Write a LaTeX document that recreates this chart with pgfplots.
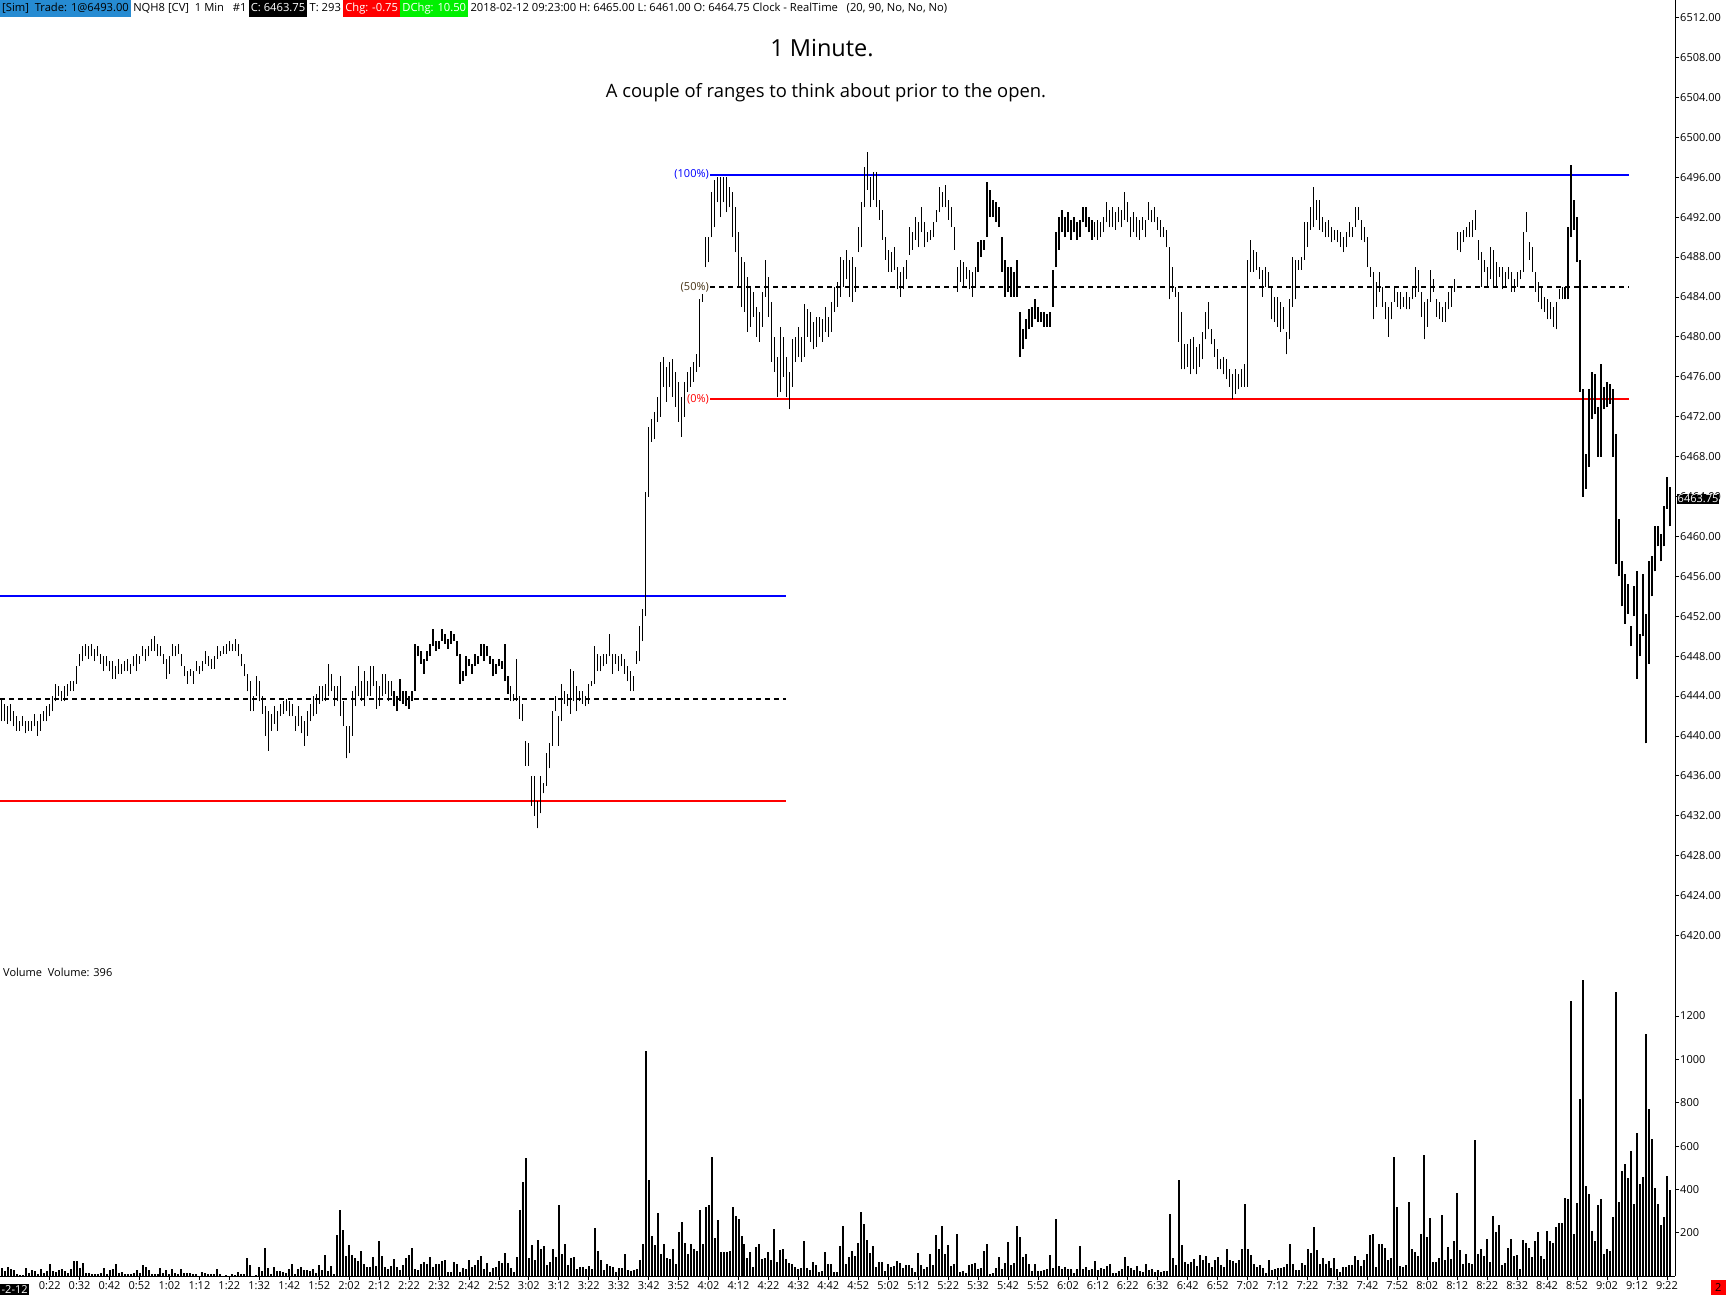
\documentclass[border=0pt]{standalone}
\usepackage{pgfplots}
\pgfplotsset{compat=1.18}
\usepackage{pgfplotstable}
\usepackage{fontspec}
\setmainfont{Open Sans}
\definecolor{hdrblue}{RGB}{38,139,210}
\definecolor{dchg}{RGB}{0,240,0}
\definecolor{fifty}{RGB}{70,50,20}
\newcommand\tf{\fontsize{11}{13}\selectfont}
\newcommand\hf{\fontsize{11.2}{13}\selectfont}
% t = minutes after 0:00 ; h,l = high/low price minus 6400 (the price scale is labelled 6400+value) ; v = volume
% one shared axis: the volume pane sits below the price pane; a volume v is drawn at height -14.14 + 0.021728*v
\pgfplotstableread{
t h l v
6 43.75 41.5 38
7 43.25 41.5 25
8 43 41.25 43
9 43.25 41.5 34
10 42.5 41 29
11 42 40.5 11
12 41.5 40.5 6
13 42 41 6
14 41.5 40.25 38
15 41.5 40.5 15
16 41.5 40.5 29
17 42.25 41 25
18 41.5 40 11
19 42.25 40.5 34
20 42.5 41.5 15
21 43 41.5 25
22 43.25 42 57
23 44 42.5 25
24 45.25 43.5 20
25 45 44 29
26 44.5 43.5 34
27 45 43.5 25
28 45.25 44 15
29 45.5 44.5 34
30 45.5 44.5 71
31 47 45.25 71
32 48.25 47 38
33 49 47.5 62
34 49.25 48 15
35 49 47.75 15
36 49.25 48 11
37 48.75 47.5 11
38 49 48 11
39 48.25 47.25 15
40 48 46.5 38
41 48 47 11
42 47.5 46.5 29
43 47.5 45.75 34
44 47 45.75 57
45 47.75 46.25 15
46 47.25 46.25 20
47 47.5 46.5 8
48 47.75 46.5 8
49 47.25 46.25 8
50 48 47 15
51 48.25 46.5 29
52 48 47.25 15
53 49 48 52
54 48.75 47.5 43
55 49 48 29
56 49.75 48.5 11
57 50 48.5 11
58 49.25 48 11
59 49 48 38
60 48.25 47.25 15
61 47.75 45.75 29
62 48 46.25 11
63 49.25 48 34
64 49 48 15
65 49.25 48.25 8
66 48.25 47 34
67 47 46 15
68 46.5 45.25 15
69 46.75 46 15
70 46.5 45.25 11
71 47.5 46.5 11
72 47 46.25 3
73 47.5 46.5 20
74 48.5 47.25 15
75 48 47 11
76 47.75 46.75 8
77 48 46.75 8
78 49 47.75 34
79 48.5 48 8
80 49 48.25 3
81 49.25 48.25 6
82 49.5 48.5 3
83 49.25 48.5 11
84 49.75 48.5 6
85 49.25 48 20
86 48.25 47 8
87 47.25 46 11
88 46.25 44.5 86
89 45.5 42.5 52
90 44 42.5 3
91 46 44 6
92 45.5 43.5 43
93 44 42.25 25
94 43 40 131
95 42.5 38.5 38
96 42.25 40.5 11
97 43 41.25 43
98 42.5 40.5 25
99 43.25 42 25
100 43.5 42.25 20
101 43.75 42.5 15
102 43.5 42 34
103 43.25 42 57
104 42 40.5 8
105 43 41 34
106 42 40.25 43
107 41.5 39 29
108 42.5 40 29
109 43.25 41.5 25
110 44 42 34
111 44.25 42.25 15
112 45 43.25 52
113 45 43.5 29
114 45.25 43.5 99
115 47.25 44 25
116 46.25 44.5 48
117 45 43 11
118 45 43.5 191
119 46 42 304
120 43.5 41 214
121 41 37.75 91
122 41 38.25 145
123 44.5 40 99
124 45 43 85
125 47 44 71
126 45.5 43.5 117
127 46.5 43 57
128 45.5 44 43
129 47 44 43
130 47 45 89
131 45.5 42.75 48
132 45 43 163
133 46.25 44 94
134 46.25 44.25 43
135 45.5 43.5 34
136 45.5 44 48
137 44.5 43 80
138 44 42.5 43
139 45.75 43.5 29
140 44.5 43.25 52
141 44.5 43 85
142 44 42.75 99
143 44.5 43.5 131
144 49.25 44.5 34
145 49 48 29
146 48.5 47.25 57
147 47.75 46.25 66
148 48.5 47.5 57
149 49.25 48 89
150 50.75 49 43
151 49.5 48.5 57
152 49.5 48.75 57
153 50.75 49.5 71
154 50.25 49.25 75
155 49.75 48.75 20
156 50.5 49.25 20
157 50.25 49.5 66
158 49.5 48 57
159 48.25 45.25 20
160 46.5 45.5 38
161 48 46 34
162 47.75 47 75
163 47.25 46.25 43
164 48.25 47 52
165 48 47.25 75
166 49.25 48 94
167 49.25 47.5 34
168 49 48 62
169 48 47.25 20
170 47.75 46 38
171 47.25 46.25 43
172 47.75 47 71
173 47.5 46.75 62
174 49.25 45.5 108
175 46 44.25 62
176 45 43.5 38
177 44.25 43.5 20
178 47.75 43.5 89
179 44 41.75 307
180 43.25 41.5 436
181 39.5 37 543
182 39.25 37 85
183 36 33 145
184 36 32 75
185 33.5 30.75 168
186 36 32.25 126
187 35.25 34.25 140
188 38.25 35 52
189 39.25 36.75 66
190 42.5 39 126
191 44 42.5 89
192 42 39 330
193 45.25 41.5 103
194 44.5 43.25 150
195 44.25 43 52
196 46.75 42.25 85
197 46.5 43.5 89
198 45 42.5 34
199 44.5 43.5 43
200 44.5 43.25 43
201 44 43 34
202 45.25 43.25 48
203 45.5 45 34
204 49 45.25 224
205 48.25 46.5 117
206 48 46.5 75
207 48.25 47 29
208 48.25 47.25 57
209 50.25 48 48
210 48.25 46.25 43
211 48.25 47.25 20
212 48 46.5 38
213 48.25 47 38
214 47.75 46.25 103
215 47 45.5 29
216 46.5 44.5 25
217 46 44.5 29
218 48.5 47.25 34
219 51 47.5 75
220 52.75 49.5 150
221 64.5 52 1039
222 71 64 445
223 71.75 69.5 187
224 72.5 69.75 145
225 74 71.5 293
226 77.5 72 103
227 78 75 150
228 77 73.5 85
229 77.5 75 80
230 77.75 74 126
231 76.5 73 57
232 75.5 71.5 205
233 74 70 251
234 75.5 72 154
235 76.5 74.5 103
236 77 75 150
237 77.5 75.5 126
238 78.25 76.5 117
239 83.75 77 307
240 84.25 83.5 150
241 90 87 321
242 90 87.5 330
243 94.5 90 552
244 95.75 91 177
245 96 93.5 260
246 96 92 113
247 96 93.5 113
248 96 92.5 113
249 95 93 117
250 94.5 90 321
251 93 88.5 279
252 90.5 85 265
253 88 83 187
254 87.5 82.5 150
255 86 80.5 85
256 85 81 113
257 84.5 82 43
258 83 80 136
259 82.5 79.5 150
260 84.5 81 80
261 87.75 84 85
262 86 82 113
263 83.5 77.5 75
264 80 76.5 219
265 78 74 66
266 81 74.5 122
267 80 76 126
268 78 74 80
269 76.5 72.75 62
270 79.75 75 57
271 80 77.5 43
272 81 78 34
273 80 77.5 38
274 83.25 78 163
275 82.75 80 38
276 82.5 79.5 29
277 81.5 78.75 66
278 82 79 52
279 82 80 20
280 81.75 79.5 25
281 83 80.5 113
282 82 80 57
283 83.5 80.5 57
284 85 82.5 20
285 85.5 83 20
286 88 84 138
287 87.75 85 231
288 88.75 85.75 55
289 87.75 84 88
290 88 83.5 115
291 87 84.5 92
292 91 88.5 152
293 93.5 89 295
294 97 93 240
295 98.5 94.75 166
296 96 93 106
297 96.5 93.75 138
298 96.5 93 42
299 93.75 91.75 65
300 92.75 89.75 65
301 90 87.75 23
302 88.75 86.5 55
303 88.5 86.5 42
304 89 86.75 46
305 87 84.75 69
306 86.5 84 60
307 87 84.75 37
308 87.75 85.75 51
309 91 88.25 51
310 90.5 88.75 37
311 92 89.75 18
312 91.5 89 106
313 93 90.5 51
314 91.5 89 32
315 90.5 89.5 42
316 90.75 89.75 102
317 91.5 90 51
318 92.75 91.5 189
319 95 92.5 125
320 94.5 93 231
321 95.25 93 102
322 93.75 91.75 143
323 93 91 46
324 91 88.75 55
325 87 84.5 194
326 87.75 85.5 18
327 87.5 85 23
328 87 85.75 14
329 86.75 84.75 51
330 86.5 84 55
331 87 85 60
332 89.5 86.5 32
333 89.75 88 37
334 89.75 88.75 115
335 95.5 90 148
336 94.75 92 9
337 93.75 92 14
338 93.5 91.5 37
339 93 91 88
340 90 86.5 32
341 87.75 84 60
342 87 84.5 157
343 87 84 51
344 86.5 84 60
345 87.75 84 231
346 82.5 78 180
347 80.75 78.75 88
348 81.75 79.75 102
349 82.75 80.75 55
350 83 81 23
351 83.75 81.75 55
352 83 81.5 23
353 82.5 81.5 23
354 82.5 81 28
355 82.25 81 32
356 82.5 81 97
357 86.75 83 40
358 90.5 87 263
359 92 88.75 46
360 92.75 90.5 32
361 92 90 42
362 92.5 90.5 32
363 91.75 89.75 32
364 92 90.5 14
365 91.5 89.75 32
366 91.75 90 138
367 93 91.5 32
368 93 91 42
369 92 90.5 28
370 91.75 89.75 32
371 91.5 90 69
372 91.75 89.75 28
373 91.5 90 37
374 92 90.5 32
375 93.5 91.5 46
376 92.75 91 55
377 93 91 14
378 92.5 90.75 14
379 93 91.5 23
380 92.75 91 32
381 94.5 91.75 88
382 93.5 91.5 46
383 92 90 37
384 92.5 90.5 28
385 92 90 46
386 91.75 89.75 23
387 92 90.75 18
388 91.75 90 55
389 93.5 91.75 28
390 92.75 91.5 32
391 93 91.5 18
392 92 90.75 28
393 91.75 90 18
394 91 90 23
395 90.75 89 23
396 89 83.75 286
397 87 84.5 83
398 85 84 51
399 84.5 79.5 443
400 82.5 76.75 143
401 79.25 76.75 65
402 79.25 77 55
403 79.75 76.25 65
404 80 76.75 78
405 79 76.25 46
406 79.25 77 97
407 80.5 77.75 74
408 82.5 79.75 92
409 83.5 80.75 60
410 80.75 79.25 42
411 79.75 78 74
412 78.75 76.75 88
413 77.75 76.75 51
414 78 76.25 42
415 77.75 75.75 125
416 76.75 75 74
417 76.25 73.75 69
418 76.75 74.25 60
419 76.25 74.75 74
420 76.75 75 125
421 77.25 75 332
422 87.75 75 125
423 89.75 86.5 97
424 88.75 86.5 55
425 88.5 86.75 42
426 87 85.75 51
427 86.75 84 37
428 87 85 14
429 86.5 85 74
430 85 81.75 28
431 84 81.5 32
432 84 81 37
433 83.5 80.5 37
434 83 80.75 42
435 80.5 78.25 55
436 83.75 79.75 148
437 88 83 55
438 87.75 83.75 28
439 87.75 86.75 28
440 88 86.75 60
441 91.5 87.75 50
442 91.5 89 125
443 93 90.75 106
444 95 91 226
445 93.75 91.75 120
446 93.75 90.75 55
447 92 90.5 83
448 91.5 90 55
449 91.75 90 69
450 91 89.5 37
451 90.75 89.75 83
452 90.75 89.5 32
453 90.5 89 18
454 90 88.5 42
455 90.5 89 42
456 91.5 90 51
457 91 90 51
458 93 91 92
459 93 91.75 74
460 91.75 89.75 46
461 91 89.5 74
462 90 87 102
463 87 86 189
464 86.5 81.75 194
465 85.5 83 42
466 86.5 84.5 148
467 85 83 148
468 83.5 81.75 129
469 83 80 74
470 83.5 81.75 83
471 85 83.5 549
472 84.5 83 318
473 84.5 82.75 46
474 84 83 42
475 84.5 82.75 51
476 84 82.75 342
477 85 83.75 125
478 87 84 111
479 86.75 84.5 92
480 84.5 82 194
481 83.5 79.75 558
482 83.75 81 180
483 86.75 83.5 268
484 85.75 84.5 65
485 83.75 82 65
486 83.5 81.75 83
487 83 81.5 282
488 83.5 81.5 74
489 84.5 82.75 134
490 85 83 78
491 85.75 84.5 162
492 90.5 88.75 383
493 90.5 88.5 120
494 90.75 89.5 55
495 91 90 102
496 91.5 90 60
497 91.75 90 55
498 92.75 90.75 628
499 89.75 87.75 102
500 88.5 85 125
501 87.75 86.5 92
502 87 85 171
503 89 85.75 65
504 88.75 85 277
505 87.5 85 203
506 87 86 235
507 87 84.75 51
508 86.5 85 60
509 87 85.75 129
510 86.5 84.5 171
511 85.75 84.5 92
512 86.5 85 97
513 86.75 85.75 32
514 90.5 86.5 166
515 92.5 90.5 152
516 89.5 87.75 129
517 89 86.5 88
518 86.5 84.5 162
519 85.5 83.5 203
520 85 82.75 92
521 84 82.5 78
522 83.75 81.75 208
523 83.5 81.75 162
524 83 81 152
525 83.5 80.75 226
526 84.75 83.75 245
527 85 83.75 245
528 85 83.75 360
529 91 83.75 355
530 97.25 90 1269
531 93.75 90.75 194
532 92 87.5 337
533 87.75 74.5 817
534 74.75 64 1366
535 68.25 64.75 415
536 74.75 67 378
537 76.5 71.75 208
538 76.25 72.25 162
539 73 68 328
540 77.25 68 355
541 75 72.75 102
542 75.5 73 125
543 75.25 73.25 115
544 74.75 68 272
545 70.25 57.25 1311
546 61.75 56 342
547 57.5 53 485
548 56.25 51.25 517
549 55.25 52.25 452
550 51 49 577
551 55 52 332
552 56.5 45.75 660
553 50.25 48 425
554 56.25 50 457
555 52.25 39.25 1117
556 57.5 47.25 771
557 58 54 632
558 61 56.5 406
559 61 59 332
560 60.25 57.5 235
561 63 59 272
562 66 62.75 462
563 65 61 396
}\data
\begin{document}
\begin{tikzpicture}[x=1pt,y=1pt]
\begin{axis}[
  at={(0,0)}, anchor=south west, width=1675pt, height=1276.2pt, scale only axis,
  xmin=5.41, xmax=564.7, ymin=-14.14, ymax=113.76,
  axis line style={draw=none},
  xtick pos=bottom, ytick pos=right,
  xtick={22,32,...,562},
  xticklabels={0:22,0:32,0:42,0:52,1:02,1:12,1:22,1:32,1:42,1:52,2:02,2:12,2:22,2:32,2:42,2:52,3:02,3:12,3:22,3:32,3:42,3:52,4:02,4:12,4:22,4:32,4:42,4:52,5:02,5:12,5:22,5:32,5:42,5:52,6:02,6:12,6:22,6:32,6:42,6:52,7:02,7:12,7:22,7:32,7:42,7:52,8:02,8:12,8:22,8:32,8:42,8:52,9:02,9:12,9:22},
  ytick={-9.794,-5.449,-1.103,3.242,7.588,11.934,20,24,28,32,36,40,44,48,52,56,60,64,68,72,76,80,84,88,92,96,100,104,108,112},
  yticklabels={200,400,600,800,1000,1200,6420.00,6424.00,6428.00,6432.00,6436.00,6440.00,6444.00,6448.00,6452.00,6456.00,6460.00,6464.00,6468.00,6472.00,6476.00,6480.00,6484.00,6488.00,6492.00,6496.00,6500.00,6504.00,6508.00,6512.00},
  tick align=outside, major tick length=4pt,
  tick style={black, line width=0.8pt},
  yticklabel style={font=\tf, inner sep=1pt},
  xticklabel style={font=\tf, inner sep=1pt},
  clip=false,
]
% lower range
\addplot[blue, line width=2pt] coordinates {(5.41,54) (267.8,54)};
\addplot[black, line width=2pt, dash pattern=on 5pt off 4pt] coordinates {(5.41,43.75) (267.8,43.75)};
\addplot[red, line width=2pt] coordinates {(5.41,33.5) (267.8,33.5)};
% upper range
\addplot[blue, line width=2pt] coordinates {(242.5,96.25) (549.3,96.25)};
\addplot[black, line width=2pt, dash pattern=on 5pt off 4pt] coordinates {(242.5,85) (549.3,85)};
\addplot[red, line width=2pt] coordinates {(242.5,73.75) (549.3,73.75)};
% high-low bars
\addplot[black, only marks, mark=*, mark size=0pt, mark options={draw=none, fill=none},
  error bars/.cd, y dir=plus, y explicit, error mark=none,
  error bar style={black, solid, line width=1.2pt}]
  table[x=t, y=l, y error expr=\thisrow{h}-\thisrow{l}] {\data};
% volume bars (from the volume pane's zero line)
\addplot[black, only marks, mark=*, mark size=0pt, mark options={draw=none, fill=none},
  error bars/.cd, y dir=plus, y explicit, error mark=none,
  error bar style={black, solid, line width=2pt}]
  table[x=t, y expr=-14.14, y error expr=0.021728*\thisrow{v}] {\data};
\node[anchor=east, text=blue, font=\tf, inner sep=1pt] at (axis cs:242.5,96.25) {(100\%)};
\node[anchor=east, text=fifty, font=\tf, inner sep=1pt] at (axis cs:242.5,85) {(50\%)};
\node[anchor=east, text=red, font=\tf, inner sep=1pt] at (axis cs:242.5,73.75) {(0\%)};
\coordinate (O) at (rel axis cs:0,0);
\end{axis}
\begin{scope}[shift={(O)}, yshift=-18.8pt]
\draw[black, line width=1pt] (1675,18.8) -- (1675,1295);
\draw[black, line width=1pt] (0,18.8) -- (1675,18.8);
% current price box
\node[fill=black, text=white, font=\tf, anchor=west, inner sep=1pt] at (1676.5,796) {6463.75};
% titles
\node[font=\fontsize{23.5}{26}\selectfont] at (822,1246.6) {1 Minute.};
\node[font=\fontsize{18.4}{21}\selectfont] at (826,1202.5) {A couple of ranges to think about prior to the open.};
% volume label
\node[anchor=west, font=\tf, inner sep=1pt] at (2,323) {Volume\ \ Volume: 396};
% header
\begin{scope}[every node/.style={font=\hf, inner xsep=2pt, inner ysep=0pt, text height=9pt, text depth=3pt, minimum height=17pt, anchor=north west}]
\node[fill=hdrblue] (a) at (0,1295) {[Sim]\ \ Trade: 1@6493.00};
\node (b) at (a.north east) {NQH8 [CV]\ \ 1 Min\ \ \ \#1};
\node[fill=black, text=white] (c) at (b.north east) {C: 6463.75};
\node (d) at (c.north east) {T: 293};
\node[fill=red, text=white] (e) at (d.north east) {Chg: -0.75};
\node[fill=dchg, text=white] (f) at (e.north east) {DChg: 10.50};
\node (g) at (f.north east) {2018-02-12 09:23:00 H: 6465.00 L: 6461.00 O: 6464.75 Clock - RealTime\ \ \ (20, 90, No, No, No)};
\end{scope}
% bottom corner boxes
\node[fill=black, text=white, font=\tf, anchor=south west, inner sep=1.5pt] at (0,0) {-2-12};
\node[fill=red, text=black, font=\tf, anchor=south east, minimum width=15pt, minimum height=15pt, inner sep=0pt] at (1726,0) {2};
\pgfresetboundingbox
\path[use as bounding box] (0,0) rectangle (1726,1295);
\end{scope}
\end{tikzpicture}
\end{document}
